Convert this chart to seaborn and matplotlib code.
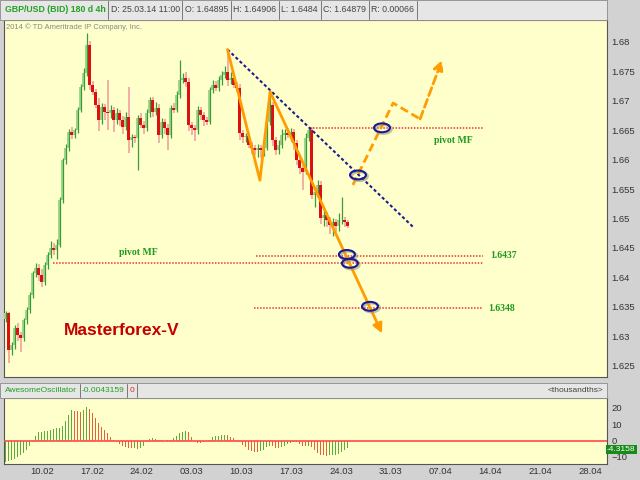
import numpy as np
import pandas as pd
import seaborn as sns
import matplotlib
matplotlib.use('Agg')
import matplotlib.pyplot as plt
from matplotlib.patches import Ellipse, Rectangle
from matplotlib.lines import Line2D
from matplotlib.transforms import blended_transform_factory

# GBP/USD 8h candles (open of first bar, then closes), wicks in pips
first_open = 1.6330
closes = [1.6339, 1.6276, 1.6285, 1.6314, 1.6302, 1.6297, 1.6327, 1.6344, 1.6370, 1.6407,
          1.6416, 1.6404, 1.6392, 1.6421, 1.6438, 1.6450, 1.6446, 1.6455, 1.6531, 1.6599,
          1.6620, 1.6647, 1.6642, 1.6650, 1.6684, 1.6724, 1.6747, 1.6795, 1.6726, 1.6715,
          1.6693, 1.6667, 1.6690, 1.6681, 1.6679, 1.6684, 1.6667, 1.6679, 1.6667, 1.6656,
          1.6673, 1.6633, 1.6638, 1.6637, 1.6671, 1.6659, 1.6654, 1.6679, 1.6701, 1.6681,
          1.6688, 1.6642, 1.6664, 1.6654, 1.6642, 1.6688, 1.6684, 1.6710, 1.6735, 1.6739,
          1.6732, 1.6659, 1.6654, 1.6650, 1.6684, 1.6676, 1.6667, 1.6664, 1.6718, 1.6727,
          1.6722, 1.6735, 1.6744, 1.6749, 1.6735, 1.6739, 1.6727, 1.6722, 1.6645, 1.6638,
          1.6640, 1.6625, 1.6620, 1.6616, 1.6620, 1.6616, 1.6620, 1.6664, 1.6693, 1.6633,
          1.6616, 1.6625, 1.6642, 1.6645, 1.6642, 1.6647, 1.6628, 1.6599, 1.6586, 1.6579,
          1.6637, 1.6650, 1.6540, 1.6545, 1.6557, 1.6501, 1.6506, 1.6497, 1.6489, 1.6494,
          1.6487, 1.6497, 1.6497, 1.6494, 1.6488]
wick_up = [4, 3, 5, 6, 8, 5, 4, 5, 6, 4, 8, 7, 10, 5, 6, 12, 8, 10, 5, 4,
           6, 5, 9, 4, 6, 5, 8, 20, 6, 8, 5, 12, 6, 5, 54, 8, 6, 9, 5, 7,
           8, 51, 6, 4, 5, 8, 6, 7, 6, 5, 9, 6, 7, 5, 6, 4, 8, 6, 34, 8,
           10, 6, 5, 4, 7, 6, 5, 6, 5, 8, 6, 7, 6, 10, 38, 10, 6, 5, 7, 6,
           5, 6, 5, 4, 6, 5, 7, 8, 20, 5, 6, 8, 10, 7, 9, 6, 5, 6, 7, 5,
           8, 6, 6, 5, 8, 6, 10, 5, 6, 7, 5, 12, 39, 6, 4]
wick_dn = [6, 22, 8, 6, 10, 24, 5, 6, 4, 5, 6, 10, 8, 5, 6, 5, 8, 14, 4, 5,
           6, 5, 7, 6, 5, 4, 6, 5, 8, 6, 5, 18, 6, 14, 29, 8, 20, 6, 10, 12,
           6, 21, 12, 8, 55, 6, 10, 5, 6, 8, 6, 14, 6, 10, 26, 6, 5, 4, 6, 5,
           8, 10, 12, 18, 6, 8, 10, 6, 4, 5, 6, 5, 8, 6, 10, 6, 5, 8, 12, 10,
           8, 6, 10, 8, 12, 14, 10, 4, 5, 10, 8, 6, 5, 8, 6, 10, 12, 8, 10, 31,
           4, 5, 6, 20, 8, 10, 14, 12, 16, 18, 10, 8, 6, 8, 4]

# Awesome Oscillator, thousandths
ao = [-13, -12.5, -12, -11, -10, -9, -7.5, -6, -3.5, -1, 3, 5, 5.5, 5.8, 6, 6.5, 7, 7.5, 8, 9,
      12, 16, 18.5, 18.4, 18, 17.5, 18.5, 20.5, 19.5, 17, 14, 11, 8.5, 6.5, 4.5, 2.5, 0.5, -1, -2, -3,
      -3.8, -4.5, -4.8, -4.5, -5, -4.5, -3, -1, 1, 1.5, 1, 0.5, 0.2, 0, 0.3, 0.6, 1.5, 3, 4.5, 5.5,
      6, 5, 2.5, 0, -1.5, -1.6, -1, -0.5, 0.5, 2, 2.8, 3, 3.3, 3.5, 3.2, 2.5, 1.5, 0.5, -0.8, -2.5,
      -4, -5.5, -6.5, -7, -7.1, -6.5, -5.5, -4, -3, -3.5, -4.5, -4.8, -4, -3, -2, -1.2, -0.8, -1, -1.8, -3,
      -3.5, -3, -4, -6, -7.5, -8.5, -9, -9.2, -9, -8.8, -8.5, -8, -7, -5.5, -4.3]

week_labels = ['10.02', '17.02', '24.02', '03.03', '10.03', '17.03',
               '24.03', '31.03', '07.04', '14.04', '21.04', '28.04']
price_ticks = [1.625, 1.63, 1.635, 1.64, 1.645, 1.65, 1.655, 1.66, 1.665, 1.67, 1.675, 1.68]
ao_ticks = [-10, 0, 10, 20]

header_items = [('GBP/USD (BID) 180 d 4h', '#22a022', 'bold'), ('D: 25.03.14 11:00', '#444444', 'normal'),
                ('O: 1.64895', '#444444', 'normal'), ('H: 1.64906', '#444444', 'normal'),
                ('L: 1.6484', '#444444', 'normal'), ('C: 1.64879', '#444444', 'normal'),
                ('R: 0.00066', '#444444', 'normal')]
osc_items = [('AwesomeOscillator', '#22a022', 'normal'), ('-0.0043159', '#22a022', 'normal'),
             ('0', '#ee2222', 'normal')]

# drawn analysis (bar index, price)
zigzag = [(74, 1.6787), (84.8, 1.6565), (88.2, 1.6715), (125.5, 1.6305)]
trend_line = [(74, 1.6787), (135.8, 1.6486)]
scenario = [(115.8, 1.6557), (129.2, 1.6696), (138.2, 1.6669), (145.5, 1.6769)]
circles = [(117.5, 1.6574), (125.5, 1.6654), (113.8, 1.6439), (114.8, 1.6424), (121.5, 1.6351)]
pivots = [(101.5, 159.2, 1.6654), (83.5, 159.2, 1.6437), (15.8, 159.2, 1.6424), (82.8, 159.2, 1.6348)]

sns.set_style('white')
plt.rcParams['font.family'] = ['Liberation Sans', 'DejaVu Sans']

n = len(closes)
df = pd.DataFrame({'i': np.arange(n), 'close': closes})
df['open'] = [first_open] + closes[:-1]
df['high'] = df[['open', 'close']].max(axis=1) + np.array(wick_up) / 10000
df['low'] = df[['open', 'close']].min(axis=1) - np.array(wick_dn) / 10000
df['body'] = (df.close - df.open).abs().clip(lower=0.00008)
df['base'] = df[['open', 'close']].min(axis=1)
up = df[df.close >= df.open]
dn = df[df.close < df.open]

fig = plt.figure(figsize=(6.4, 4.8), dpi=100, facecolor='#d2d2d2')
ax = fig.add_axes([4 / 640, 1 - 377 / 480, 603 / 640, 357 / 480], facecolor='#ffffcc')
ax2 = fig.add_axes([4 / 640, 1 - 464 / 480, 603 / 640, 66 / 480], facecolor='#ffffcc')

xmax = 200.5
# candles
ax.vlines(dn.i, dn.low, dn.high, color='#f09a9a', lw=1.1, zorder=2)
ax.bar(dn.i, dn.body, bottom=dn.base, width=0.8, color='#dd1010', lw=0, zorder=3)
ax.bar(up.i, up.body, bottom=up.base, width=1.0, color='#9ed88a', lw=0, zorder=3)
ax.vlines(up.i, up.low, up.high, color='#3a9a3a', lw=0.9, zorder=4)

# pivot levels
for x0, x1, p in pivots:
    ax.plot([x0, x1], [p, p], color='#ee3333', lw=1.1, ls=(0, (1, 1)), zorder=5)
lbl = dict(color='#1e9a1e', fontsize=7, fontweight='bold', family='Liberation Serif', va='center')
ax.text(149.2, 1.6632, 'pivot MF', ha='center', **lbl)
ax.text(44.2, 1.6443, 'pivot MF', ha='center', **lbl)
ax.text(161.5, 1.6437, '1.6437', ha='left', **lbl)
ax.text(160.8, 1.6348, '1.6348', ha='left', **lbl)

# trend line and wave drawings
tx, ty = zip(*trend_line)
ax.plot(tx, ty, color='#1c1c8a', lw=1.5, ls=(0, (1.5, 1.2)), zorder=6)
zx, zy = zip(*zigzag)
ax.plot(zx[:-1], zy[:-1], color='#ff9c00', lw=2, zorder=7, solid_capstyle='round')
ax.annotate('', xy=zigzag[-1], xytext=zigzag[-2],
            arrowprops=dict(arrowstyle='-|>', color='#ff9c00', lw=2, mutation_scale=14,
                            shrinkA=0, shrinkB=0), zorder=7)
sx, sy = zip(*scenario)
ax.plot(sx[:-1], sy[:-1], color='#ff9c00', lw=2, ls=(0, (3, 1.5)), zorder=7)
ax.annotate('', xy=scenario[-1], xytext=scenario[-2],
            arrowprops=dict(arrowstyle='-|>', color='#ff9c00', lw=2, ls=(0, (3, 1.5)),
                            mutation_scale=14, shrinkA=0, shrinkB=0), zorder=7)
for cx, cy in circles:
    ax.add_patch(Ellipse((cx + 0.5, cy - 0.00022), 5.3, 0.0015, fc='none', ec='#9a9a70',
                         lw=2, alpha=0.6, zorder=7))
    ax.add_patch(Ellipse((cx, cy), 5.3, 0.0015, fc='none', ec='#1a1a99', lw=1.5, zorder=8))

ax.text(0.195, 0.13, 'Masterforex-V', transform=ax.transAxes, color='#c40000', fontsize=12.5,
        fontweight='bold', ha='center', va='center')
ax.text(0.003, 0.992, '2014 \u00a9 TD Ameritrade IP Company, Inc.', transform=ax.transAxes,
        fontsize=5.5, color='#8a8a8a', va='top', ha='left')

ax.set_xlim(-0.5, xmax)
ax.set_ylim(1.6231, 1.6837)
ax.set_xticks([])
ax.yaxis.tick_right()
ax.set_yticks(price_ticks)
ax.set_yticklabels([f'{p:g}' for p in price_ticks])
ax.tick_params(axis='y', length=0, pad=3, labelsize=6.8, labelcolor='#333333')

# Awesome Oscillator
ao_df = pd.DataFrame({'i': np.arange(n), 'ao': ao})
ao_df['dir'] = np.where(ao_df.ao.diff().fillna(1) > 0, 'up', 'down')
sns.barplot(data=ao_df, x='i', y='ao', hue='dir', palette={'up': '#5aaa3c', 'down': '#e2623e'},
            native_scale=True, dodge=False, width=0.65, errorbar=None, legend=False,
            saturation=1, linewidth=0, edgecolor='none', ax=ax2)
ax2.axhline(0, color='#ff4a4a', lw=1.2, zorder=5)
ax2.set_xlim(-0.5, xmax)
ax2.set_ylim(-14.3, 26.1)
ax2.yaxis.tick_right()
ax2.set_yticks(ao_ticks)
ax2.set_xticks([12.2 + 16.6 * k for k in range(len(week_labels))])
ax2.set_xticklabels(week_labels)
ax2.set_xlabel('')
ax2.set_ylabel('')
ax2.tick_params(axis='both', length=0, labelsize=6.8, labelcolor='#333333')
ax2.tick_params(axis='y', pad=3)
ax2.tick_params(axis='x', pad=2)
ax2.text(1.0, -5.3, '-4.3158', transform=blended_transform_factory(ax2.transAxes, ax2.transData),
         ha='left', va='center', color='white', fontsize=6,
         bbox=dict(boxstyle='square,pad=0.12', fc='#178a17', ec='none'), zorder=10)

for a in (ax, ax2):
    for s in a.spines.values():
        s.set_color('#555555')
        s.set_linewidth(0.8)

# header bars, boxes laid out one after the other
renderer = fig.canvas.get_renderer()

def bar(y0, y1):
    fig.add_artist(Rectangle((0, 1 - y1 / 480), 607 / 640, (y1 - y0) / 480,
                             transform=fig.transFigure, fc='#e6e6e6', ec='#8a8a8a', lw=0.6))

def sep(x, y0, y1):
    fig.add_artist(Line2D([x / 640, x / 640], [1 - y0 / 480, 1 - y1 / 480],
                          transform=fig.transFigure, color='#777777', lw=0.7))

def row(items, y0, y1, size):
    x = 5
    for txt, color, weight in items:
        t = fig.text(x / 640, 1 - (y0 + y1) / 2 / 480, txt, color=color, fontsize=size,
                     fontweight=weight, va='center')
        x += t.get_window_extent(renderer).width + 2.5
        sep(x, y0 + 1, y1 - 1)
        x += 2.5

bar(0, 20)
row(header_items, 0, 20, 6.3)
bar(383, 398)
row(osc_items, 383, 398, 6)
fig.text(603 / 640, 1 - 390.5 / 480, '<thousandths>', color='#444444', fontsize=6,
         va='center', ha='right')

fig.savefig('out.png', dpi=100, facecolor=fig.get_facecolor())
